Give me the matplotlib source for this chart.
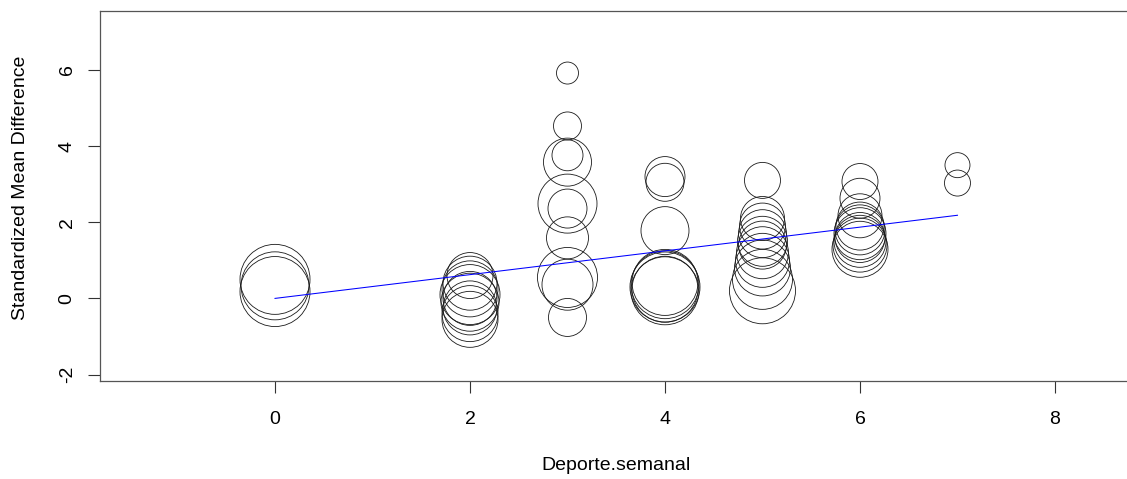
import matplotlib
matplotlib.use("Agg")
import matplotlib.pyplot as plt
import numpy as np

plt.rcParams["font.family"] = ["Liberation Sans", "DejaVu Sans"]
plt.rcParams["axes.unicode_minus"] = False

# studies: moderator value, effect size, relative weight (bubble radius)
deporte = [0, 0, 0,
           2, 2, 2, 2, 2, 2, 2, 2, 2,
           3, 3, 3, 3, 3, 3, 3, 3, 3, 3,
           4, 4, 4, 4, 4, 4, 4, 4,
           5, 5, 5, 5, 5, 5, 5, 5, 5, 5, 5,
           6, 6, 6, 6, 6, 6, 6, 6, 6, 6,
           7, 7]
smd = [0.50, 0.33, 0.18,
       0.60, 0.40, 0.25, 0.10, 0.00, -0.10, -0.25, -0.40, -0.55,
       5.92, 4.53, 3.58, 3.76, 2.49, 2.36, 1.59, 0.55, 0.36, -0.50,
       3.20, 3.05, 1.78, 0.42, 0.36, 0.30, 0.24, 0.20,
       3.10, 2.10, 1.90, 1.70, 1.50, 1.40, 1.20, 1.00, 0.80, 0.50, 0.20,
       3.07, 2.63, 2.17, 1.90, 1.80, 1.70, 1.60, 1.50, 1.40, 1.29,
       3.50, 3.03]
weight = [3.5, 3.4, 3.5,
          2.3, 2.7, 2.8, 3.0, 2.7, 2.9, 2.7, 2.8, 2.8,
          1.1, 1.4, 2.4, 1.55, 2.95, 1.95, 2.1, 3.0, 2.55, 1.9,
          2.0, 1.9, 2.4, 3.3, 3.4, 3.5, 3.3, 3.4,
          1.8, 2.2, 2.3, 2.4, 2.5, 2.4, 2.6, 2.7, 2.8, 3.0, 3.3,
          1.8, 2.0, 2.2, 2.4, 2.5, 2.6, 2.5, 2.6, 2.7, 2.8,
          1.25, 1.3]

# fitted meta-regression line
fit_intercept = 0.0
fit_slope = 0.312

W, H, DPI = 1127, 479, 100
fig = plt.figure(figsize=(W / DPI, H / DPI), dpi=DPI)
ax = fig.add_axes([100 / W, 1 - 381 / H, 1032 / W, 370 / H])

px_to_pt = 72 / DPI
sizes = [(2 * w * 10 * px_to_pt) ** 2 for w in weight]
ax.scatter(deporte, smd, s=sizes, facecolors="none", edgecolors="#1a1a1a",
           linewidths=0.6, zorder=2)

xl = np.array([min(deporte), max(deporte)])
ax.plot(xl, fit_intercept + fit_slope * xl, color="blue", linewidth=0.75, zorder=3)

ax.set_xlim(-1.795, 8.79)
ax.set_ylim(-2.17, 7.55)
ax.set_xticks([0, 2, 4, 6, 8])
ax.set_yticks([-2, 0, 2, 4, 6])

for sp in ax.spines.values():
    sp.set_color("#555555")
    sp.set_linewidth(0.9)

ax.tick_params(axis="both", length=8.5, width=0.8, color="#333333", labelsize=14)
ax.tick_params(axis="x", pad=13)
ax.tick_params(axis="y", pad=9)
for lbl in ax.get_yticklabels():
    lbl.set_rotation(90)
    lbl.set_va("center")

ax.set_xlabel("Deporte.semanal", fontsize=14, labelpad=21)
ax.set_ylabel("Standardized Mean Difference", fontsize=14)
ax.yaxis.set_label_coords(-0.069, 0.523)

fig.savefig("out.png", dpi=DPI)
